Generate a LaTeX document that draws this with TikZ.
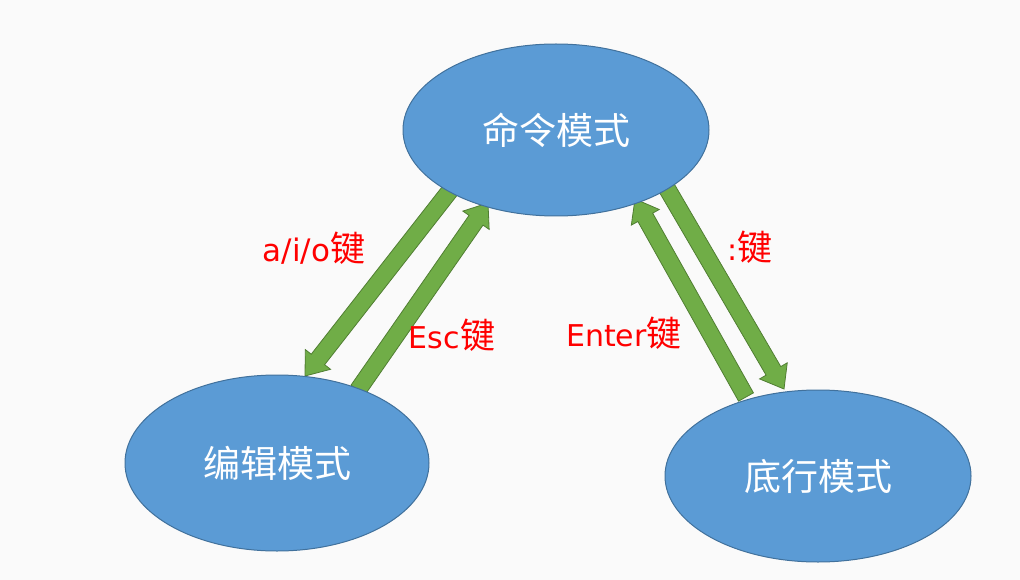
\documentclass[tikz,border=0pt]{standalone}
\usepackage{fontspec}
\newfontfamily\cjk{Noto Sans CJK SC}
\newfontfamily\latinf{DejaVu Sans}
\usetikzlibrary{calc,shapes.geometric}
\definecolor{ellfill}{HTML}{5B9BD5}
\definecolor{elldraw}{HTML}{41719C}
\definecolor{arrfill}{HTML}{70AD47}
\definecolor{arrdraw}{HTML}{507E32}
\definecolor{bgc}{HTML}{FAFAFA}
\newcommand{\blockarrow}[2]{%
  \coordinate (neck) at ($(#2)!21pt!(#1)$);
  \filldraw[arrowstyle]
    ($(#1)!8.5pt!90:(#2)$) -- ($(neck)!8.5pt!-90:(#1)$) -- ($(neck)!16pt!-90:(#1)$)
    -- (#2) -- ($(neck)!16pt!90:(#1)$) -- ($(neck)!8.5pt!90:(#1)$)
    -- ($(#1)!8.5pt!-90:(#2)$) -- cycle;}
\begin{document}
\begin{tikzpicture}[x=1pt,y=-1pt,
  mode/.style={ellipse,fill=ellfill,draw=elldraw,line width=1pt,inner sep=0pt,
    minimum width=306pt,minimum height=172pt,text=white,font=\cjk\fontsize{37}{42}\selectfont},
  arrowstyle/.style={fill=arrfill,draw=arrdraw,line width=0.8pt,line join=miter},
  keylabel/.style={text=red,inner sep=0pt}]
\fill[bgc] (0,0) rectangle (1020,580);
\useasboundingbox (0,0) rectangle (1020,580);
% arrow endpoints
\coordinate (t1) at (452,188);
\coordinate (h1) at (305,376);
\coordinate (t2) at (358,390);
\coordinate (h2) at (488,203);
\coordinate (t3) at (746,397);
\coordinate (h3) at (635,199);
\coordinate (t4) at (665,185);
\coordinate (h4) at (784,389);
\blockarrow{t1}{h1}
\blockarrow{t2}{h2}
\blockarrow{t3}{h3}
\blockarrow{t4}{h4}
\node[mode] (cmd) at (556,130) {命令模式};
\node[mode,minimum height=176pt,minimum width=304pt] (edit) at (277,463) {编辑模式};
\node[mode] (last) at (818,476) {底行模式};
\node[keylabel] (l1) at (314,248) {{\latinf\fontsize{31}{36}\selectfont a/i/o}{\cjk\fontsize{35}{40}\selectfont 键}};
\node[keylabel] (l2) at (452,335) {{\latinf\fontsize{30}{36}\selectfont Esc}{\cjk\fontsize{35}{40}\selectfont 键}};
\node[keylabel] (l3) at (624,333) {{\latinf\fontsize{30}{36}\selectfont Enter}{\cjk\fontsize{35}{40}\selectfont 键}};
\node[keylabel] (l4) at (750,247) {{\latinf\fontsize{30}{36}\selectfont :}{\cjk\fontsize{35}{40}\selectfont 键}};
\end{tikzpicture}
\end{document}
